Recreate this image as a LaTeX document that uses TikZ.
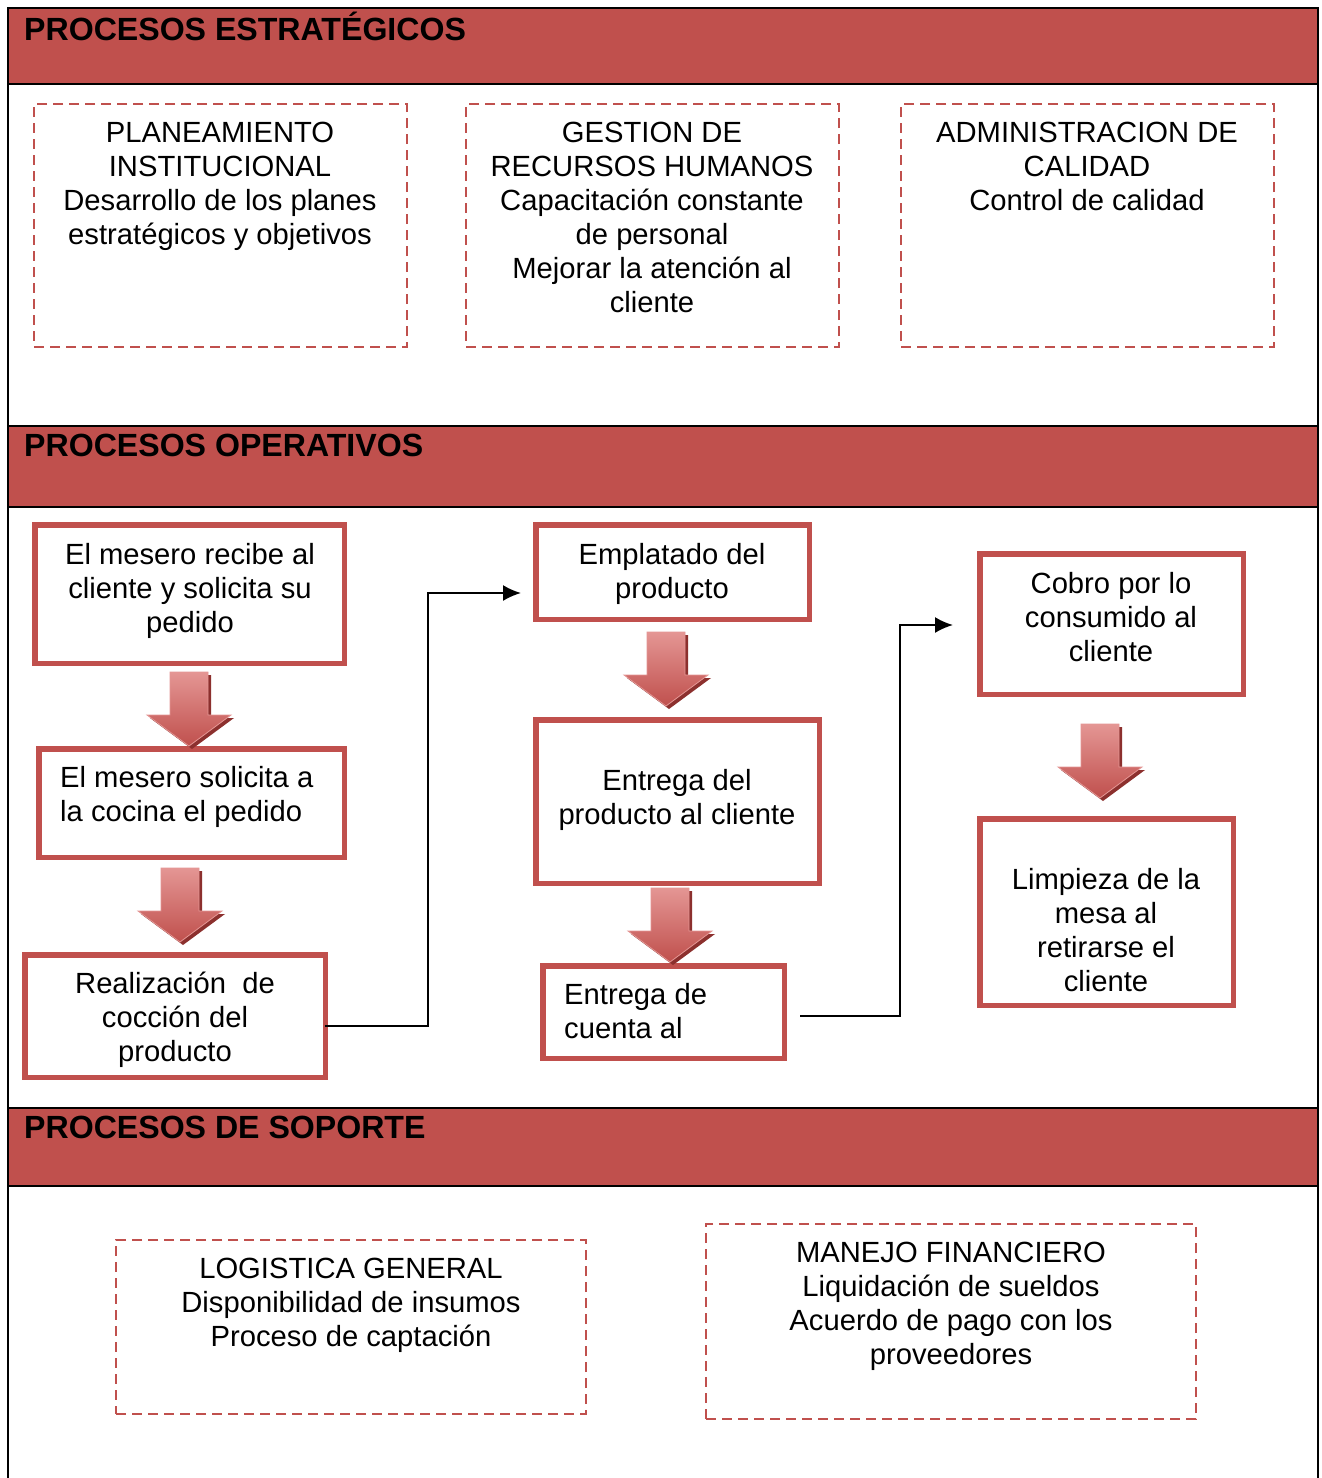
\documentclass[tikz,border=0pt]{standalone}
\usepackage{fontspec}
\setmainfont{Liberation Sans}
\usetikzlibrary{arrows.meta}
\definecolor{brick}{RGB}{192,80,77}
\definecolor{brickdark}{RGB}{140,48,46}
\definecolor{brickpale}{RGB}{228,150,148}
\begin{document}
\begin{tikzpicture}[x=1pt,y=-1pt,
  hdr/.style={anchor=north west,inner sep=0,font=\fontsize{32.1}{36.9}\selectfont\bfseries,
    execute at begin node=\strut,execute at end node=\strut},
  txt/.style={anchor=north,inner sep=0,align=center,font=\fontsize{29.2}{34}\selectfont,
    execute at begin node=\strut,execute at end node=\strut},
  ltxt/.style={txt,anchor=north west,align=left},
  dbox/.style={draw=brick,line width=2.7pt,dash pattern=on 10pt off 6pt,inner sep=0,outer sep=0},
  opbox/.style={draw=brick,line width=5.5pt,inner sep=0,outer sep=0},
  conn/.style={draw=black,line width=2pt,-{Latex[length=18pt,width=16pt]}},
  downarrow/.pic={
    \fill[brickdark] (-16,3) -- (22,3) -- (22,46) -- (45,46) -- (3,77) -- (-39,46) -- (-16,46) -- cycle;
    \shade[top color=brickpale,bottom color=brick,draw=brickpale,line width=0.8pt]
      (-19,0) -- (19,0) -- (19,43) -- (42,43) -- (0,74) -- (-42,43) -- (-19,43) -- cycle;
  }]
\useasboundingbox (0,0) rectangle (1322,1478);
\fill[white] (0,0) rectangle (1322,1478);

% section bands
\fill[brick] (8,8) rectangle (1318,84);
\fill[brick] (8,426) rectangle (1318,507);
\fill[brick] (8,1108) rectangle (1318,1186);
\begin{scope}[line width=2pt]
  \draw (8,1478) -- (8,8) -- (1318,8) -- (1318,1478);
  \foreach \yy in {84,426,507,1108,1186} \draw (8,\yy) -- (1318,\yy);
\end{scope}
\node[hdr] (h1) at (24,12) {PROCESOS ESTRATÉGICOS};
\node[hdr] (h2) at (24,430) {PROCESOS OPERATIVOS};
\node[hdr] (h3) at (24,1112) {PROCESOS DE SOPORTE};

% strategic processes
\node[dbox,minimum width=373,minimum height=243] (plan) at (220.5,225.5) {};
\node[dbox,minimum width=373,minimum height=243] (rrhh) at (652.5,225.5) {};
\node[dbox,minimum width=373,minimum height=243] (cal) at (1087.5,225.5) {};
\node[txt] (plant) at (220,122) {PLANEAMIENTO\\INSTITUCIONAL\\Desarrollo de los planes\\estratégicos y objetivos};
\node[txt] (rrhht) at (652,122) {GESTION DE\\RECURSOS HUMANOS\\Capacitación constante\\de personal\\Mejorar la atención al\\cliente};
\node[txt] (calt) at (1087,122) {ADMINISTRACION DE\\CALIDAD\\Control de calidad};

% operative processes
\node[opbox,minimum width=309.5,minimum height=138.5] (recv) at (189.5,594) {};
\node[opbox,minimum width=305.5,minimum height=108.5] (ask) at (191.5,803) {};
\node[opbox,minimum width=300.5,minimum height=122.5] (cook) at (175,1016) {};
\node[opbox,minimum width=273.5,minimum height=94.5] (plate) at (672.5,572) {};
\node[opbox,minimum width=283.5,minimum height=163.5] (serve) at (677.5,801.5) {};
\node[opbox,minimum width=241.5,minimum height=92.5] (bill) at (663.5,1012) {};
\node[opbox,minimum width=263.5,minimum height=140.5] (pay) at (1111.5,624) {};
\node[opbox,minimum width=253.5,minimum height=186.5] (clean) at (1106.5,912) {};

\node[txt] (recvt) at (190,543) {El mesero recibe al\\cliente y solicita su\\pedido};
\node[ltxt] (askt) at (60,766) {El mesero solicita a\\la cocina el pedido};
\node[txt] (cookt) at (175,972) {Realización\ \ de\\cocción del\\producto};
\node[txt] (platet) at (672,543) {Emplatado del\\producto};
\node[txt] (servet) at (677,769) {Entrega del\\producto al cliente};
\node[ltxt] (billt) at (564,983) {Entrega de\\cuenta al};
\node[txt] (payt) at (1111,572) {Cobro por lo\\consumido al\\cliente};
\node[txt] (cleant) at (1106,868) {Limpieza de la\\mesa al\\retirarse el\\cliente};

% flow arrows between steps
\pic at (189,672) {downarrow};
\pic at (180,868) {downarrow};
\pic at (666,632) {downarrow};
\pic at (670,888) {downarrow};
\pic at (1100,724) {downarrow};

% connectors between columns
\coordinate (k1) at (428,593);
\coordinate (e1) at (521,593);
\coordinate (s2) at (800,1016);
\coordinate (k2) at (900,625);
\coordinate (e2) at (953,625);
\draw[conn] ([yshift=-10pt]cook.east) -| (k1) -- (e1);
\draw[conn] (s2) -| (k2) -- (e2);

% support processes
\node[dbox,minimum width=470,minimum height=174] (log) at (351,1327) {};
\node[dbox,minimum width=490,minimum height=195] (fin) at (951,1321.5) {};
\node[txt] (logt) at (351,1258) {LOGISTICA GENERAL\\Disponibilidad de insumos\\Proceso de captación};
\node[txt] (fint) at (951,1242) {MANEJO FINANCIERO\\Liquidación de sueldos\\Acuerdo de pago con los\\proveedores};
\end{tikzpicture}
\end{document}
